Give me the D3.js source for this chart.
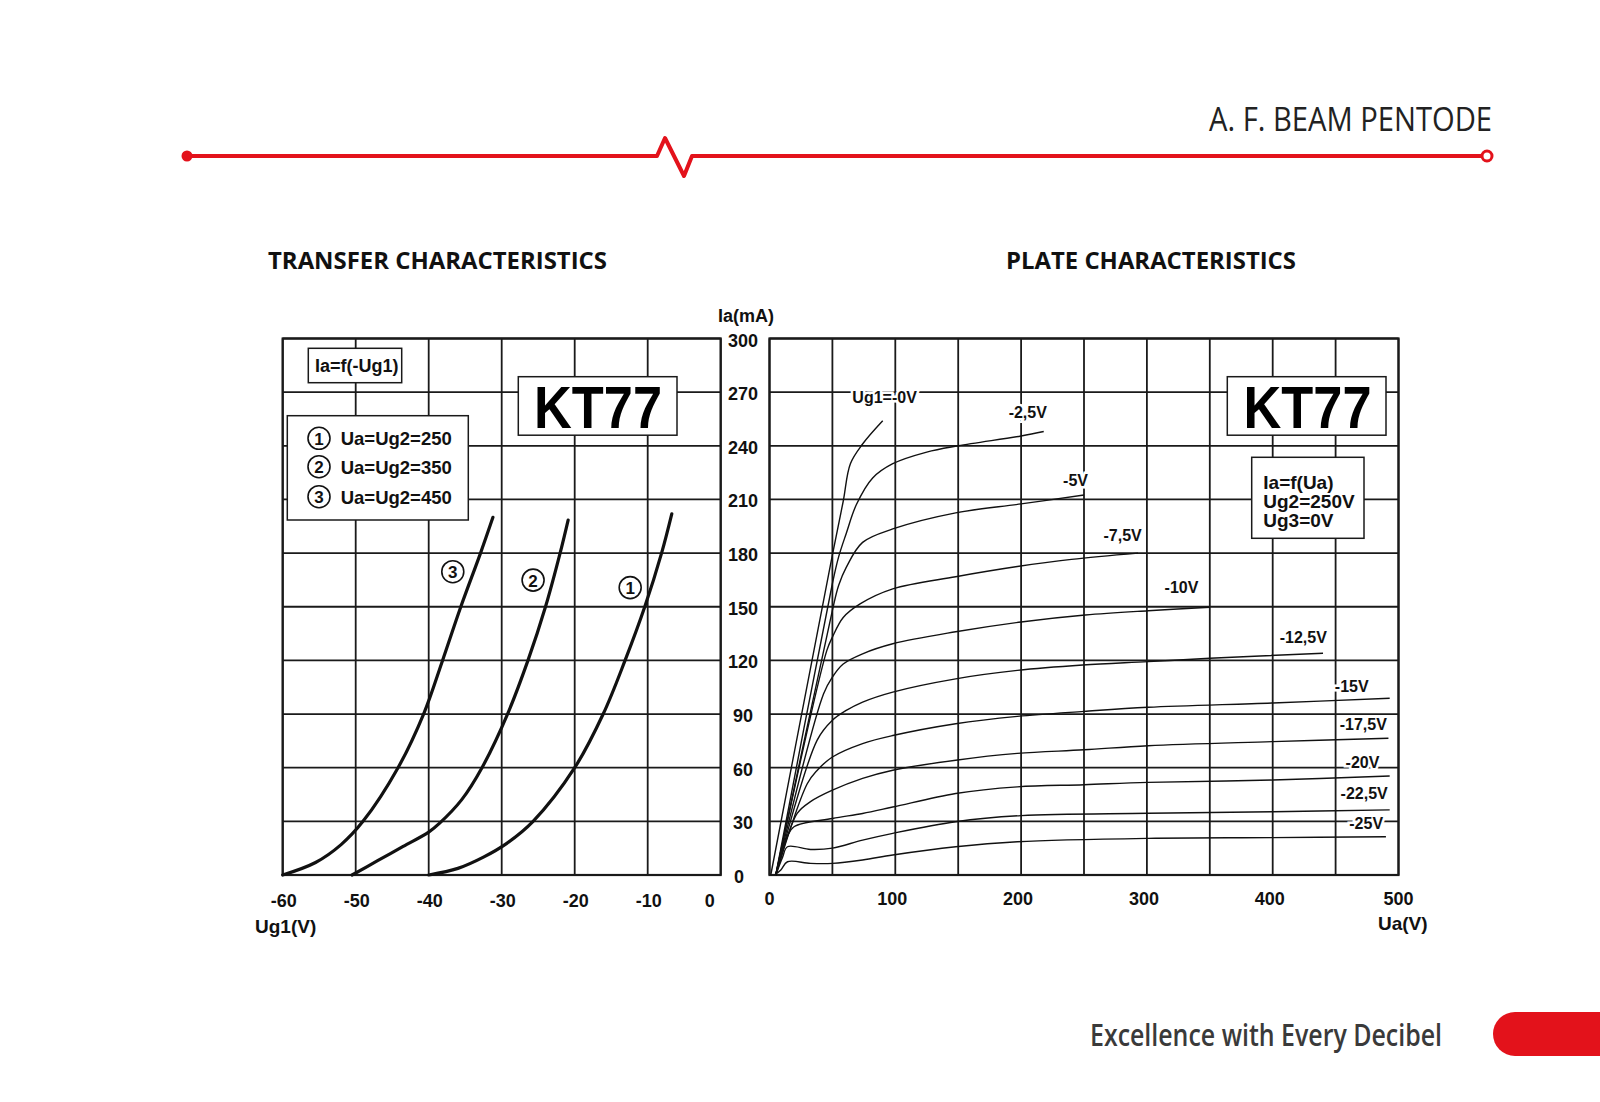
<!DOCTYPE html>
<html>
<head>
<meta charset="utf-8">
<script src="https://cdn.jsdelivr.net/npm/d3@7"></script>
<style>
  body { margin: 0; background: #fff; }
  svg text { font-family: "Liberation Sans", Arial, sans-serif; font-weight: bold; fill: #111; }
</style>
</head>
<body>
<svg id="chart" width="1600" height="1102"></svg>
<script>
  const width = 1600, height = 1102;
  const svg = d3.select("#chart");

  // ---- data ----
  const ug1Ticks = [-60, -50, -40, -30, -20, -10, 0];
  const uaTicks = [0, 100, 200, 300, 400, 500];
  const iaTicks = [0, 30, 60, 90, 120, 150, 180, 210, 240, 270, 300];

  // transfer curves Ia = f(-Ug1)
  const transferNames = ["1", "2", "3"];
  const transferLegend = ["Ua=Ug2=250", "Ua=Ug2=350", "Ua=Ug2=450"];
  const transfer250 = [[-40, 0], [-36, 3.7], [-32.5, 10], [-29.3, 17.7], [-25.7, 30], [-20, 60], [-16.1, 90], [-13.1, 120], [-10.4, 150], [-8.1, 180], [-6.7, 202]];
  const transfer350 = [[-50.5, 0], [-47, 8], [-43.5, 16], [-40, 24], [-38.5, 29], [-35.5, 42], [-32.7, 60], [-29.2, 90], [-26.4, 120], [-24, 150], [-22, 180], [-20.9, 198.5]];
  const transfer450 = [[-60, 0], [-55.5, 7], [-52, 17], [-49, 30], [-44.2, 60], [-40.7, 90], [-38.1, 120], [-35.6, 150], [-32.9, 180], [-31.2, 200]];
  const transferTagAt = [[-12.4, 160.7], [-25.7, 164.9], [-36.7, 169.6]];

  // plate curves Ia = f(Ua), one per Ug1
  const plateBias = ["Ug1=-0V", "-2,5V", "-5V", "-7,5V", "-10V", "-12,5V", "-15V", "-17,5V", "-20V", "-22,5V", "-25V"];
  const plate0 = [[1, 0], [50, 179], [58.6, 209], [64.3, 230], [74, 241], [90, 254]];
  const plate2_5 = [[5, 0], [50, 163], [55, 178], [61, 191], [69, 207], [82, 222], [98, 230], [125, 236.5], [150, 240], [200, 245.5], [218, 248]];
  const plate5 = [[5, 0], [50, 148], [55, 162], [61, 172], [74, 186], [98, 193.5], [148, 202.5], [200, 207.5], [250, 212.5]];
  const plate7_5 = [[5, 0], [45.6, 125.6], [50, 133], [58.6, 144], [72, 151.6], [98, 160], [148, 166.8], [197, 172.5], [240, 176.5], [293, 180]];
  const plate10 = [[5, 0], [43, 101.4], [50, 110.7], [58.6, 118], [74, 123.7], [98, 129.3], [148, 136], [200, 141.5], [251, 145.4], [301, 147.8], [350, 149.7]];
  const plate12_5 = [[5, 0], [37.8, 75.3], [50, 86.5], [61, 92], [74, 96.7], [98, 102.3], [148, 109.7], [197, 114.4], [249, 117.4], [301, 119.3], [350, 121.2], [440, 124]];
  const plate15 = [[5, 0], [30, 51], [38, 58.6], [50, 66], [74, 73.5], [98, 78], [148, 84.6], [197, 88.7], [250, 91.5], [301, 93.8], [400, 96.2], [493, 98.8]];
  const plate17_5 = [[5, 0], [22, 34.4], [32.6, 41], [50, 47.4], [74, 54], [98, 58.6], [148, 64.2], [197, 68], [250, 70], [301, 72.3], [400, 74.6], [492, 76.5]];
  const plate20 = [[5, 0], [14, 21.4], [19.5, 27], [50, 31.6], [74, 34.4], [98, 38], [148, 45.6], [197, 49.3], [250, 50.5], [301, 51.8], [400, 53.1], [493, 55.4]];
  const plate22_5 = [[5, 0], [10.4, 10], [14.3, 15.8], [32.6, 14.3], [50, 15], [74, 19.5], [98, 23.3], [148, 29.8], [200, 33.2], [301, 34.5], [400, 35.4], [493, 36.4]];
  const plate25 = [[4, 0], [9, 2.8], [14.3, 7.4], [32.6, 6.5], [50, 6.5], [74, 8.4], [98, 11.2], [148, 15.8], [197, 18.6], [301, 20.5], [400, 20.9], [490, 21.4]];
  const plateTagAt = [[91.5, 267.5], [205.3, 259.1], [243.3, 220.9], [280.7, 190.2], [327.5, 161.2], [424.3, 133.3], [462.8, 105.7], [472, 84.5], [471.4, 63], [472.7, 45.7], [474.3, 29.3]];

  const transferCurves = [transfer250, transfer350, transfer450];
  const plateCurves = [plate0, plate2_5, plate5, plate7_5, plate10, plate12_5, plate15, plate17_5, plate20, plate22_5, plate25];

  // ---- scales ----
  const y = d3.scaleLinear().domain([0, 300]).range([875, 338.5]);
  const xL = d3.scaleLinear().domain([-60, 0]).range([282.7, 720.7]);
  const xR = d3.scaleLinear().domain([0, 500]).range([769.5, 1398.5]);

  const red = "#e3121b";

  // ---- header ----
  svg.append("text")
    .attr("x", 1492).attr("y", 131)
    .attr("text-anchor", "end")
    .attr("textLength", 283).attr("lengthAdjust", "spacingAndGlyphs")
    .style("font-family", "'Open Sans', sans-serif")
    .style("font-weight", 400).style("font-size", "33px").style("fill", "#222")
    .text("A. F. BEAM PENTODE");

  svg.append("path")
    .attr("d", "M187,156 L657,156 L665,138 L684,176 L692,156 L1482,156")
    .attr("fill", "none").attr("stroke", red).attr("stroke-width", 4)
    .attr("stroke-linejoin", "round");
  svg.append("circle").attr("cx", 187).attr("cy", 156).attr("r", 5.5).attr("fill", red);
  svg.append("circle").attr("cx", 1487).attr("cy", 156).attr("r", 5)
    .attr("fill", "#fff").attr("stroke", red).attr("stroke-width", 3);

  // ---- section titles ----
  const titleStyle = sel => sel
    .style("font-family", "'Open Sans', sans-serif")
    .style("font-weight", 700).style("font-size", "23px").style("fill", "#111")
    .attr("lengthAdjust", "spacingAndGlyphs");
  svg.append("text").attr("x", 268).attr("y", 269).attr("textLength", 339)
    .call(titleStyle).text("TRANSFER CHARACTERISTICS");
  svg.append("text").attr("x", 1006).attr("y", 269).attr("textLength", 290)
    .call(titleStyle).text("PLATE CHARACTERISTICS");

  // ---- grids ----
  function grid(xs, xTicks) {
    const g = svg.append("g").attr("stroke", "#1a1a1a").attr("stroke-width", 1.8);
    g.selectAll("line.v").data(xTicks).join("line")
      .attr("x1", d => xs(d)).attr("x2", d => xs(d))
      .attr("y1", y(0)).attr("y2", y(300));
    g.selectAll("line.h").data(iaTicks).join("line")
      .attr("x1", xs.range()[0]).attr("x2", xs.range()[1])
      .attr("y1", d => y(d)).attr("y2", d => y(d));
    g.append("rect")
      .attr("x", xs.range()[0]).attr("y", y(300))
      .attr("width", xs.range()[1] - xs.range()[0]).attr("height", y(0) - y(300))
      .attr("fill", "none").attr("stroke-width", 2.2);
  }
  grid(xL, ug1Ticks);
  grid(xR, d3.range(0, 501, 50));

  // ---- boxes ----
  function box(x, y0, w, h) {
    return svg.append("rect").attr("x", x).attr("y", y0).attr("width", w).attr("height", h)
      .attr("fill", "#fff").attr("stroke", "#1a1a1a").attr("stroke-width", 1.5);
  }

  box(308.3, 348.3, 93.4, 34.4);
  svg.append("text").attr("x", 315).attr("y", 372).style("font-size", "18px").text("Ia=f(-Ug1)");

  [[518.3, 598], [1227.3, 1307.5]].forEach(([bx, cx]) => {
    box(bx, 376.7, 158.7, 58.5);
    svg.append("text").attr("x", cx).attr("y", 428.3).attr("text-anchor", "middle")
      .attr("textLength", 128).attr("lengthAdjust", "spacingAndGlyphs")
      .style("font-size", "60px").style("fill", "#000").text("KT77");
  });

  box(287.3, 415.7, 181, 104.3);
  const legendRows = [438.3, 466.7, 496.7];
  transferLegend.forEach((t, i) => {
    const cy = legendRows[i];
    svg.append("circle").attr("cx", 319).attr("cy", cy).attr("r", 11)
      .attr("fill", "#fff").attr("stroke", "#111").attr("stroke-width", 1.6);
    svg.append("text").attr("x", 319).attr("y", cy + 6.5).attr("text-anchor", "middle")
      .style("font-size", "17px").text(transferNames[i]);
    svg.append("text").attr("x", 340.7).attr("y", cy + 7).style("font-size", "18.5px").text(t);
  });

  box(1251.7, 457.3, 112.3, 81);
  ["Ia=f(Ua)", "Ug2=250V", "Ug3=0V"].forEach((t, i) => {
    svg.append("text").attr("x", 1263.3).attr("y", 488.5 + i * 19.3)
      .style("font-size", "19px").text(t);
  });

  // ---- curves ----
  const smooth = d3.curveCatmullRom.alpha(0.5);
  const transferLine = d3.line().x(d => xL(d[0])).y(d => y(d[1])).curve(smooth);
  svg.append("g").selectAll("path").data(transferCurves).join("path")
    .attr("d", transferLine)
    .attr("fill", "none").attr("stroke", "#111").attr("stroke-width", 3.2)
    .attr("stroke-linecap", "round");

  transferTagAt.forEach((p, i) => {
    svg.append("circle").attr("cx", xL(p[0])).attr("cy", y(p[1])).attr("r", 11)
      .attr("fill", "#fff").attr("stroke", "#111").attr("stroke-width", 1.6);
    svg.append("text").attr("x", xL(p[0])).attr("y", y(p[1]) + 6.5).attr("text-anchor", "middle")
      .style("font-size", "17px").text(transferNames[i]);
  });

  const plateLine = d3.line().x(d => xR(d[0])).y(d => y(d[1])).curve(smooth);
  svg.append("g").selectAll("path").data(plateCurves).join("path")
    .attr("d", plateLine)
    .attr("fill", "none").attr("stroke", "#111").attr("stroke-width", 1.4);

  svg.append("g").selectAll("text").data(plateBias).join("text")
    .attr("x", (d, i) => xR(plateTagAt[i][0]))
    .attr("y", (d, i) => y(plateTagAt[i][1]) + 6)
    .attr("text-anchor", "middle")
    .style("font-size", "16px")
    .style("stroke", "#fff").style("stroke-width", 5).style("paint-order", "stroke")
    .text(d => d);

  // ---- axes labels ----
  svg.append("g").selectAll("text").data(ug1Ticks).join("text")
    .attr("x", d => xL(d) + (d === 0 ? -11 : 1))
    .attr("y", 907).attr("text-anchor", "middle")
    .style("font-size", "18px").text(d => d);

  svg.append("g").selectAll("text").data(iaTicks).join("text")
    .attr("x", d => d === 0 ? 739 : 743)
    .attr("y", d => y(d) + 8).attr("text-anchor", "middle")
    .style("font-size", "18px").text(d => d);

  svg.append("g").selectAll("text").data(uaTicks).join("text")
    .attr("x", d => xR(d) - (d === 0 || d === 500 ? 0 : 3))
    .attr("y", 905).attr("text-anchor", "middle")
    .style("font-size", "18px").text(d => d);

  svg.append("text").attr("x", 255).attr("y", 933).style("font-size", "19px").text("Ug1(V)");
  svg.append("text").attr("x", 1378).attr("y", 930).style("font-size", "19px").text("Ua(V)");
  svg.append("text").attr("x", 718).attr("y", 322).style("font-size", "18px").text("Ia(mA)");

  // ---- footer ----
  svg.append("text")
    .attr("x", 1090).attr("y", 1046)
    .attr("textLength", 352).attr("lengthAdjust", "spacingAndGlyphs")
    .style("font-family", "'Open Sans', sans-serif")
    .style("font-weight", 600).style("font-size", "30px").style("fill", "#3a3a3a")
    .text("Excellence with Every Decibel");
  svg.append("rect").attr("x", 1493).attr("y", 1012).attr("width", 150).attr("height", 44)
    .attr("rx", 22).attr("fill", red);
</script>
</body>
</html>
